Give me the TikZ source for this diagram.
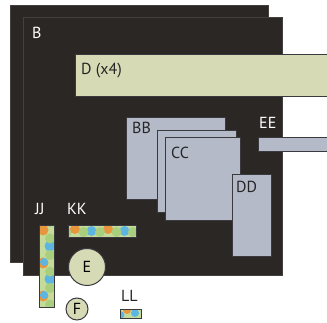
\documentclass[tikz,border=0pt]{standalone}
\usepackage{fontspec}
\setmainfont{PT Sans}
\definecolor{darkbg}{HTML}{2B2725}
\definecolor{darkedge}{HTML}{45403D}
\definecolor{pale}{HTML}{D6DAB5}
\definecolor{slate}{HTML}{B5BAC9}
\definecolor{edge}{HTML}{3A3A3E}
\definecolor{dotor}{HTML}{E8963E}
\definecolor{dotbl}{HTML}{5DB6E2}
\definecolor{dotgr}{HTML}{A9CF7E}
\definecolor{barbg}{HTML}{C5DB9C}
\tikzset{
  lblfont/.style={font=\fontsize{16}{16}\selectfont},
  panel/.style={fill=darkbg, draw=darkedge, line width=0.8pt},
  paleblock/.style={fill=pale, draw=edge, line width=1pt},
  slateblock/.style={fill=slate, draw=edge, line width=1pt},
  wlabel/.style={lblfont, text=white, anchor=base west, inner sep=0pt},
  dlabel/.style={lblfont, text=black!85, anchor=base west, inner sep=0pt},
  bar/.style={draw=edge, line width=1pt}
}
\begin{document}
\begin{tikzpicture}[x=1pt,y=-1pt]
\useasboundingbox (0,0) rectangle (327,323);
\begin{scope}
\clip (0,0) rectangle (327,323);
% panels
\path[panel] (10,5) rectangle (268,262);
\path[panel] (23,17) rectangle (282,275);
\node[wlabel] (lb) at (32,38.5) {B};
% D
\path[paleblock] (75,55) rectangle (335,97);
\node[dlabel] (ld) at (81,74.5) {D (x4)};
% stacked slates
\path[slateblock] (126,118) rectangle (225,200);
\node[dlabel] (lbb) at (132,133.5) {BB};
\path[slateblock] (157,131) rectangle (236,213);
\path[slateblock] (165,138) rectangle (240,221);
\node[dlabel] (lcc) at (171,158.5) {CC};
\path[slateblock] (232,175) rectangle (271,257);
\node[dlabel] (ldd) at (236,193) {DD};
% EE
\node[wlabel] (lee) at (259,129) {EE};
\path[slateblock] (258,138) rectangle (335,152);
% JJ / KK labels
\node[wlabel] (ljj) at (35,215) {JJ};
\node[wlabel] (lkk) at (67,215) {KK};
% KK bar
\begin{scope}
\clip (68,226) rectangle (136,238);
\fill[barbg] (68,226) rectangle (136,238);
\foreach \i in {0,...,4} {
  \fill[dotgr] (67+\i*16.5,232) circle (5);
  \fill[dotor] (75+\i*33,229) circle (5);
  \fill[dotbl] (91.5+\i*33,231) circle (5);
}
\end{scope}
\draw[bar] (68,226) rectangle (136,238);
% JJ bar
\begin{scope}
\clip (39,226) rectangle (54,308);
\fill[barbg] (39,226) rectangle (54,308);
\foreach \i in {0,...,5} {
  \fill[dotgr] (50,222+\i*16.5) circle (5);
  \fill[dotor] (43,230+\i*33) circle (5.5);
  \fill[dotbl] (50,246+\i*33) circle (5.5);
}
\fill[dotbl] (44,262) circle (4);
\fill[dotbl] (44,295) circle (4);
\end{scope}
\draw[bar] (39,226) rectangle (54,308);
% E, F
\node[paleblock, circle, minimum size=37pt, inner sep=0pt, lblfont] (e) at (87,267) {E};
\node[paleblock, circle, minimum size=22pt, inner sep=0pt, lblfont] (f) at (77,309) {F};
% LL
\node[dlabel] (lll) at (121,301.5) {LL};
\begin{scope}
\clip (120,310) rectangle (141,319);
\fill[barbg] (120,310) rectangle (141,319);
\fill[dotor] (127,310) circle (4);
\fill[dotbl] (135,313) circle (4);
\fill[dotbl] (121,315) circle (3.5);
\end{scope}
\draw[bar] (120,310) rectangle (141,319);
\end{scope}
\end{tikzpicture}
\end{document}
